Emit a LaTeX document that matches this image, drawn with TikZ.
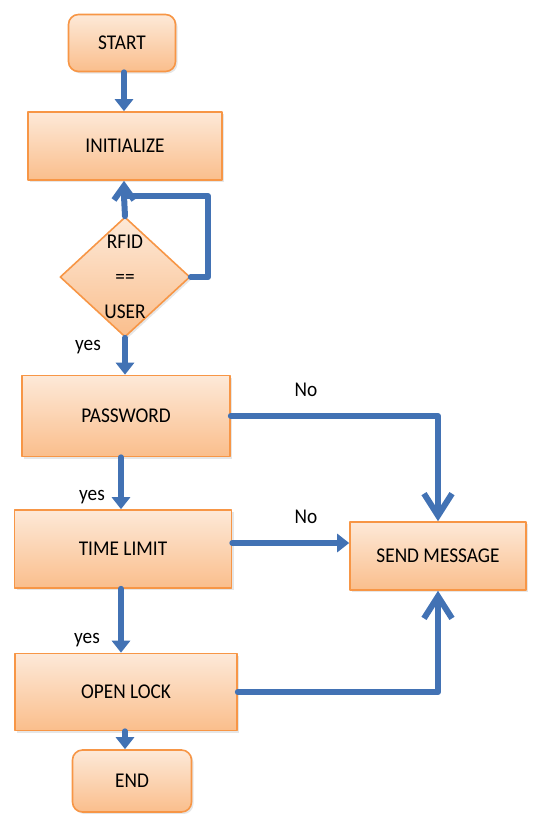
\documentclass[tikz,border=0pt]{standalone}
\usepackage{fontspec}
\setmainfont{Carlito}[FakeStretch=0.92]
\usetikzlibrary{arrows.meta}
\usetikzlibrary{positioning}
\usetikzlibrary{shapes.geometric}
\usetikzlibrary{shadows}

\definecolor{boxtop}{RGB}{253,233,216}
\definecolor{boxbot}{RGB}{250,190,140}
\definecolor{boxline}{RGB}{247,150,70}
\definecolor{flowblue}{RGB}{66,114,180}

\tikzset{
  box/.style={draw=boxline, line width=0.8pt, top color=boxtop, bottom color=boxbot,
    drop shadow={opacity=0.2, shadow xshift=1pt, shadow yshift=-1pt},
    inner sep=0pt, font=\fontsize{10.5}{12}\selectfont, text=black},
  endbox/.style={box, rounded corners=5pt},
  flow/.style={draw=flowblue, line width=3pt},
  solid tip/.style={-{Triangle[length=6pt,width=9pt]}},
  open tip/.style={-{Straight Barb[length=11pt,width=14pt,line width=3pt]}},
  small tip/.style={-{Straight Barb[length=7pt,width=10pt,line width=3pt]}},
  lbl/.style={font=\fontsize{10.5}{12}\selectfont, text=black, inner sep=1pt}
}

\begin{document}
\begin{tikzpicture}[line cap=round,line join=round,x=0.5pt,y=-0.5pt]
\useasboundingbox (0,0) rectangle (535,814);
% boxes of the flow chart
\node[endbox, minimum width=53.5pt, minimum height=28.5pt] (start) at (122,43) {START};
\node[box, minimum width=97pt, minimum height=34pt] (init) at (125,146) {INITIALIZE};
\node[box, diamond, minimum width=65pt, minimum height=60pt] (dec) at (125,277) {};
\node[lbl, align=center, font=\fontsize{10.5}{17.5}\selectfont] (dectxt) at (dec) {RFID\\==\\USER};
\node[box, minimum width=104pt, minimum height=40.5pt] (pass) at (126,416) {PASSWORD};
\node[box, minimum width=108.5pt, minimum height=39pt] (time) at (123,549) {TIME LIMIT};
\node[box, minimum width=111pt, minimum height=38.5pt] (open) at (126,692) {OPEN LOCK};
\node[endbox, minimum width=59.5pt, minimum height=31pt] (end) at (132,781) {END};
\node[box, minimum width=88pt, minimum height=34pt] (send) at (438,556) {SEND MESSAGE};
% loop corner and junction
\coordinate (loop) at (208,196);
\coordinate (join) at (124,196);
% arrows down the main column
\draw[flow, solid tip] (start.south -| 124,0) -- (init.north -| 124,0);
\draw[flow] (dec.north) -- (join);
\draw[flow, small tip] (dec.east) -| (loop) -- (join) -- (init.south -| join);
\draw[flow, solid tip] (dec.south) -- (pass.north -| dec.south);
\draw[flow, solid tip] (pass.south -| 121,0) -- (time.north -| 121,0);
\draw[flow, solid tip] (time.south -| 121,0) -- (open.north -| 121,0);
\draw[flow, solid tip] (open.south -| 125,0) -- (end.north -| 125,0);
% branches to the message box
\draw[flow, open tip] (pass.east) -| (send.north);
\draw[flow, solid tip] (time.east |- 0,543) -- (send.west |- 0,543);
\draw[flow, open tip] (open.east) -| (send.south);
% labels
\node[lbl] (yes1) at (88,347) {yes};
\node[lbl] (yes2) at (92,497) {yes};
\node[lbl] (yes3) at (87,640) {yes};
\node[lbl] (no1) at (306,390) {No};
\node[lbl] (no2) at (306,517) {No};
\end{tikzpicture}
\end{document}
